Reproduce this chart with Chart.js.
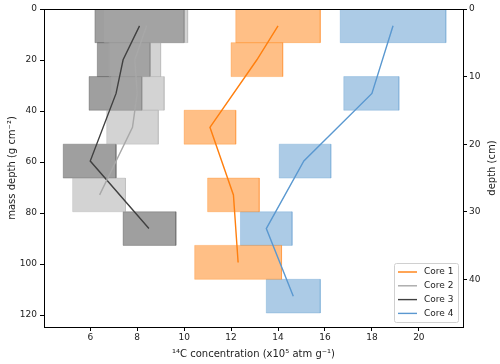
<!DOCTYPE html>
<html>
<head>
<meta charset="utf-8">
<script src="https://cdn.jsdelivr.net/npm/chart.js@4.4.0/dist/chart.umd.min.js"></script>
<style>
  html, body { margin: 0; padding: 0; background: #fff; }
</style>
</head>
<body>
<canvas id="coreChart" width="500" height="364"></canvas>
<script>
// Sample values (mass depth in g cm-2, concentration in x10^5 atm g-1)
const core1Depth = [6.6, 19.9, 46.4, 72.9, 99.4];
const core1Top = [0, 13.2, 39.7, 66.3, 92.7];
const core1Bottom = [13.2, 26.5, 53.0, 79.5, 106.0];
const core1Conc = [14.0, 13.1, 11.1, 12.1, 12.3];
const core1Low = [12.2, 12.0, 10.0, 11.0, 10.45];
const core1High = [15.8, 14.2, 12.2, 13.2, 14.15];

const core2Depth = [6.6, 19.9, 33.1, 46.4, 72.9];
const core2Top = [0, 13.2, 26.5, 39.7, 66.3];
const core2Bottom = [13.2, 26.5, 39.7, 53.0, 79.5];
const core2Conc = [8.4, 7.9, 8.0, 7.8, 6.4];
const core2Low = [6.6, 6.8, 6.9, 6.7, 5.25];
const core2High = [10.15, 9.0, 9.15, 8.9, 7.5];

const core3Depth = [6.6, 19.9, 33.1, 59.6, 86.1];
const core3Top = [0, 13.2, 26.5, 53.0, 79.5];
const core3Bottom = [13.2, 26.5, 39.7, 66.3, 92.7];
const core3Conc = [8.1, 7.4, 7.1, 6.0, 8.5];
const core3Low = [6.2, 6.3, 5.95, 4.85, 7.4];
const core3High = [10.0, 8.55, 8.2, 7.1, 9.65];

const core4Depth = [6.6, 33.1, 59.6, 86.1, 112.6];
const core4Top = [0, 26.5, 53.0, 79.5, 106.0];
const core4Bottom = [13.2, 39.7, 66.3, 92.7, 119.2];
const core4Conc = [18.9, 18.0, 15.1, 13.5, 14.65];
const core4Low = [16.65, 16.8, 14.05, 12.4, 13.5];
const core4High = [21.15, 19.15, 16.25, 14.6, 15.8];

const xTicks = [6, 8, 10, 12, 14, 16, 18, 20];
const yTicks = [0, 20, 40, 60, 80, 100, 120];
const cmTicks = [0, 10, 20, 30, 40];
const massPerCm = 2.65; // g cm-2 per cm, links the two depth axes

const cores = [
    { label: 'Core 1', line: 'rgb(255,127,14)', rgb: '255,127,14',
      depth: core1Depth, top: core1Top, bottom: core1Bottom, conc: core1Conc, low: core1Low, high: core1High },
    { label: 'Core 2', line: 'rgb(168,168,168)', rgb: '167,167,167',
      depth: core2Depth, top: core2Top, bottom: core2Bottom, conc: core2Conc, low: core2Low, high: core2High },
    { label: 'Core 3', line: 'rgb(64,64,64)', rgb: '64,64,64',
      depth: core3Depth, top: core3Top, bottom: core3Bottom, conc: core3Conc, low: core3Low, high: core3High },
    { label: 'Core 4', line: 'rgb(90,152,208)', rgb: '89,151,205',
      depth: core4Depth, top: core4Top, bottom: core4Bottom, conc: core4Conc, low: core4Low, high: core4High }
];

const FONT = "'DejaVu Sans', sans-serif";
const yMax = 124.7;

// lines first so they are drawn on top of the boxes
const datasets = [];
cores.forEach(c => {
    datasets.push({
        label: c.label,
        data: c.conc.map((v, i) => ({ x: v, y: c.depth[i] })),
        borderColor: c.line,
        borderWidth: 1.4,
        pointRadius: 0,
        fill: false,
        tension: 0
    });
});
cores.forEach(c => {
    c.conc.forEach((v, i) => {
        datasets.push({
            label: c.label + ' box',
            data: [
                { x: c.low[i], y: c.top[i] },
                { x: c.high[i], y: c.top[i] },
                { x: c.high[i], y: c.bottom[i] },
                { x: c.low[i], y: c.bottom[i] },
                { x: c.low[i], y: c.top[i] }
            ],
            borderColor: 'rgba(' + c.rgb + ',0.3)',
            backgroundColor: 'rgba(' + c.rgb + ',0.5)',
            borderWidth: 1,
            pointRadius: 0,
            fill: 'shape',
            tension: 0
        });
    });
});

// frame round the plot, rotated right title, legend in the lower right
const extras = {
    id: 'extras',
    afterDraw(chart) {
        const ctx = chart.ctx;
        const a = chart.chartArea;
        ctx.save();
        ctx.strokeStyle = '#000';
        ctx.lineWidth = 1;
        ctx.strokeRect(Math.round(a.left) + 0.5, Math.round(a.top) + 0.5,
            Math.round(a.right - a.left), Math.round(a.bottom - a.top));

        // right axis title reads bottom to top like the left one
        ctx.fillStyle = '#222';
        ctx.font = '10px ' + FONT;
        ctx.textAlign = 'center';
        ctx.textBaseline = 'middle';
        ctx.translate(492, (a.top + a.bottom) / 2);
        ctx.rotate(-Math.PI / 2);
        ctx.fillText('depth (cm)', 0, 0);
        ctx.restore();

        // legend
        const w = 64, h = 59;
        const lx = a.right - 5 - w, ly = a.bottom - 5 - h;
        ctx.save();
        ctx.fillStyle = 'rgba(255,255,255,0.85)';
        ctx.strokeStyle = '#d0d0d0';
        ctx.lineWidth = 1;
        ctx.beginPath();
        ctx.roundRect(lx + 0.5, ly + 0.5, w, h, 2);
        ctx.fill();
        ctx.stroke();
        ctx.font = '9px ' + FONT;
        ctx.textAlign = 'left';
        ctx.textBaseline = 'middle';
        cores.forEach((c, i) => {
            const yy = ly + 9 + i * 13.8;
            ctx.strokeStyle = c.line;
            ctx.lineWidth = 1.4;
            ctx.beginPath();
            ctx.moveTo(lx + 4, yy);
            ctx.lineTo(lx + 23, yy);
            ctx.stroke();
            ctx.fillStyle = '#222';
            ctx.fillText(c.label, lx + 30, yy);
        });
        ctx.restore();
    }
};

const tickGrid = {
    display: true,
    drawOnChartArea: false,
    drawTicks: true,
    tickLength: 4,
    color: '#000'
};

new Chart(document.getElementById('coreChart'), {
    type: 'line',
    data: { datasets: datasets },
    options: {
        responsive: false,
        animation: false,
        layout: { padding: { top: 9, left: 0, right: 0, bottom: 0 } },
        plugins: {
            legend: { display: false },
            tooltip: { enabled: false }
        },
        scales: {
            x: {
                type: 'linear',
                min: 4.03,
                max: 21.88,
                afterBuildTicks: s => { s.ticks = xTicks.map(v => ({ value: v })); },
                afterFit: s => { s.height = 37; },
                grid: tickGrid,
                border: { display: true, color: '#000' },
                ticks: { color: '#222', font: { family: FONT, size: 9 }, padding: 1, maxRotation: 0 },
                title: {
                    display: true,
                    text: '\u00b9\u2074C concentration (x10\u2075 atm g\u207b\u00b9)',
                    color: '#222',
                    font: { family: FONT, size: 10 },
                    padding: { top: 1, bottom: 4 }
                }
            },
            y: {
                type: 'linear',
                position: 'left',
                reverse: true,
                min: 0,
                max: yMax,
                afterBuildTicks: s => { s.ticks = yTicks.map(v => ({ value: v })); },
                afterFit: s => { s.width = 44; },
                grid: tickGrid,
                border: { display: true, color: '#000' },
                ticks: { color: '#222', font: { family: FONT, size: 9 }, padding: 3 },
                title: {
                    display: true,
                    text: 'mass depth (g cm\u207b\u00b2)',
                    color: '#222',
                    font: { family: FONT, size: 10 },
                    padding: { top: 6, bottom: 0 }
                }
            },
            y2: {
                type: 'linear',
                position: 'right',
                reverse: true,
                min: 0,
                max: yMax / massPerCm,
                afterBuildTicks: s => { s.ticks = cmTicks.map(v => ({ value: v })); },
                afterFit: s => { s.width = 37; },
                grid: tickGrid,
                border: { display: true, color: '#000' },
                ticks: { color: '#222', font: { family: FONT, size: 9 }, padding: 2 }
            }
        }
    },
    plugins: [extras]
});
</script>
</body>
</html>
